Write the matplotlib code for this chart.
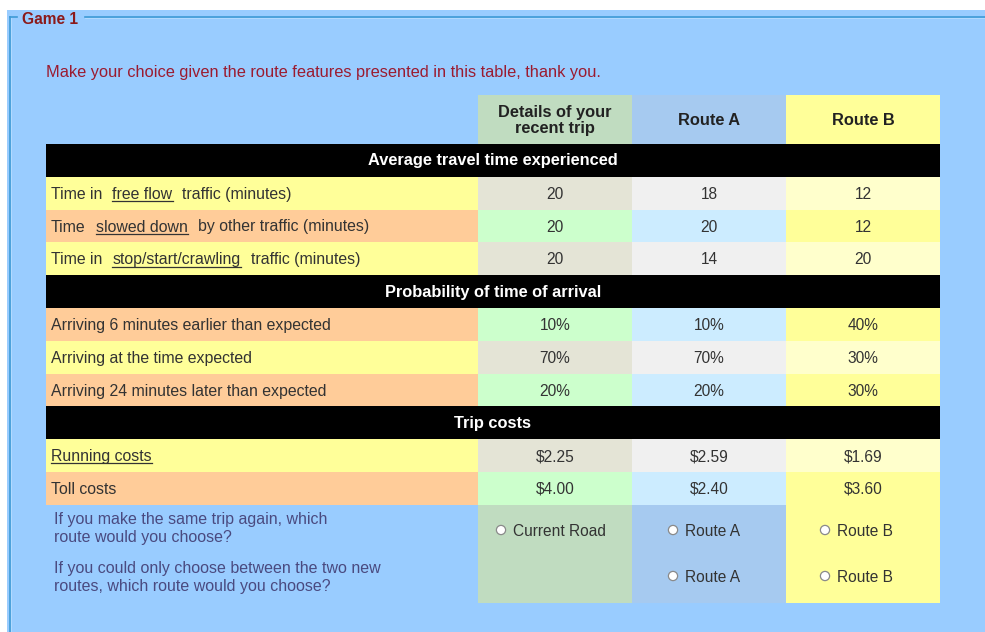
import matplotlib
matplotlib.use("Agg")
import matplotlib.pyplot as plt
from matplotlib.patches import Rectangle, Circle

# ---------------- data ----------------
title_legend = "Game 1"
intro_text = "Make your choice given the route features presented in this table, thank you."
col_headers = ["Details of your\nrecent trip", "Route A", "Route B"]
sections = ["Average travel time experienced", "Probability of time of arrival", "Trip costs"]

time_labels = [("Time in", "free flow", "traffic (minutes)"),
               ("Time", "slowed down", "by other traffic (minutes)"),
               ("Time in", "stop/start/crawling", "traffic (minutes)")]
time_recent = [20, 20, 20]
time_route_a = [18, 20, 14]
time_route_b = [12, 12, 20]

arrival_labels = [("Arriving 6 minutes earlier than expected", "", ""),
                  ("Arriving at the time expected", "", ""),
                  ("Arriving 24 minutes later than expected", "", "")]
arrival_recent = [10, 70, 20]
arrival_route_a = [10, 70, 20]
arrival_route_b = [40, 30, 30]

cost_labels = [("", "Running costs", ""), ("Toll costs", "", "")]
cost_recent = [2.25, 4.00]
cost_route_a = [2.59, 2.40]
cost_route_b = [1.69, 3.60]

question_lines = [["If you make the same trip again, which", "route would you choose?"],
                  ["If you could only choose between the two new", "routes, which route would you choose?"]]
q1_options = ["Current Road", "Route A", "Route B"]
q2_options = ["", "Route A", "Route B"]

# ---------------- styles ----------------
W, H = 985, 632
BG = "#99CCFF"
FONT = "Liberation Sans"
TXT = "#333333"
FS = 11.2      # cell values / radio labels
FSL = 11.4     # row labels
FSQ = 11.5     # questions
FSB = 11.8     # bold headers
head_cols = ["#C0DCC0", "#A6CAF0", "#FFFF99"]
label_col = {"y": "#FFFF99", "o": "#FFCC99"}
cell_cols = {"y": ["#E4E4D6", "#F0F0F0", "#FFFFCC"],
             "o": ["#CCFFCC", "#CCECFF", "#FFFF99"]}

fig = plt.figure(figsize=(W / 100, H / 100), dpi=100)
fig.patch.set_facecolor("white")
ax = fig.add_axes([0, 0, 1, 1])
ax.set_xlim(0, W)
ax.set_ylim(H, 0)
ax.axis("off")

# background and fieldset frame
ax.add_patch(Rectangle((7, 10), W - 7, H - 10, facecolor=BG, edgecolor="none"))
fc = "#3E9AD6"
ax.plot([10, 10], [17, H], color=fc, lw=1.2)
ax.plot([10, 17], [17, 17], color=fc, lw=1.2)
ax.plot([85, W], [17, 17], color=fc, lw=1.2)
ax.plot([11, 11], [18, H], color="#B8DDFF", lw=0.6)
ax.plot([85, W], [18.3, 18.3], color="#B8DDFF", lw=0.6)
ax.text(22, 19, title_legend, color="#8B1A1A", fontsize=11.2, fontweight="bold",
        family=FONT, va="center", ha="left")
ax.text(46, 72, intro_text, color="#9B1B30", fontsize=11.8, family=FONT, va="center", ha="left")

# table geometry
xL, xs = 46, [478, 632, 786, 940]
top_header = 95
row_h = 32.8
y0 = 144

# header
for j in range(3):
    ax.add_patch(Rectangle((xs[j], top_header), xs[j + 1] - xs[j], y0 - top_header,
                           facecolor=head_cols[j], edgecolor="none"))
    ax.text((xs[j] + xs[j + 1]) / 2, (top_header + y0) / 2 + 1, col_headers[j], ha="center",
            va="center", fontsize=FSB, fontweight="bold", family=FONT, color="#222222",
            linespacing=1.0)

fig.canvas.draw()
renderer = fig.canvas.get_renderer()


def label_text(x, yc, parts, gap=10):
    pre, und, post = parts
    base = yc + 5.5
    cur = x
    for k, s in enumerate([pre, und, post]):
        if not s:
            continue
        t = ax.text(cur, base, s, ha="left", va="baseline", fontsize=FSL, family=FONT, color=TXT)
        bb = t.get_window_extent(renderer)
        w = bb.width
        if k == 1:
            ax.plot([cur, cur + w], [base + 2.2, base + 2.2], color="#333333", lw=0.9)
        cur += w + gap


def section_row(y, title):
    ax.add_patch(Rectangle((xL, y), xs[3] - xL, row_h, facecolor="black", edgecolor="none"))
    ax.text((xL + xs[3]) / 2, y + row_h / 2 + 0.5, title, ha="center", va="center", color="white",
            fontsize=FSB, fontweight="bold", family=FONT)


def data_row(y, kind, parts, vals):
    ax.add_patch(Rectangle((xL, y), xs[0] - xL, row_h, facecolor=label_col[kind], edgecolor="none"))
    for j in range(3):
        ax.add_patch(Rectangle((xs[j], y), xs[j + 1] - xs[j], row_h,
                               facecolor=cell_cols[kind][j], edgecolor="none"))
        ax.text((xs[j] + xs[j + 1]) / 2, y + row_h / 2 + 5.5, vals[j], ha="center", va="baseline",
                fontsize=FS, family=FONT, color=TXT)
    label_text(xL + 5, y + row_h / 2, parts)


y = y0
section_row(y, sections[0]); y += row_h
for i, kind in enumerate(["y", "o", "y"]):
    data_row(y, kind, time_labels[i],
             [str(time_recent[i]), str(time_route_a[i]), str(time_route_b[i])])
    y += row_h
section_row(y, sections[1]); y += row_h
for i, kind in enumerate(["o", "y", "o"]):
    data_row(y, kind, arrival_labels[i],
             [f"{arrival_recent[i]}%", f"{arrival_route_a[i]}%", f"{arrival_route_b[i]}%"])
    y += row_h
section_row(y, sections[2]); y += row_h
for i, kind in enumerate(["y", "o"]):
    data_row(y, kind, cost_labels[i],
             [f"${cost_recent[i]:.2f}", f"${cost_route_a[i]:.2f}", f"${cost_route_b[i]:.2f}"])
    y += row_h

# question area
q_top, q_bot = y, 603
for j in range(3):
    ax.add_patch(Rectangle((xs[j], q_top), xs[j + 1] - xs[j], q_bot - q_top,
                           facecolor=head_cols[j], edgecolor="none"))
qc = "#4A4A80"
for lines, ys in zip(question_lines, [(519, 537), (568, 586)]):
    for ln, yy in zip(lines, ys):
        ax.text(54, yy + 5, ln, ha="left", va="baseline", fontsize=FSQ, family=FONT, color=qc)

radio_x = [501, 673, 825]
for opts, yy in [(q1_options, 530), (q2_options, 576)]:
    for j, o in enumerate(opts):
        if not o:
            continue
        ax.add_patch(Circle((radio_x[j], yy), 4.6, facecolor="white", edgecolor="#8A8A8A", lw=0.9))
        ax.text(radio_x[j] + 12, yy + 5.5, o, ha="left", va="baseline", fontsize=FS, family=FONT,
                color=TXT)

fig.savefig("out.png", dpi=100, facecolor=fig.get_facecolor())
